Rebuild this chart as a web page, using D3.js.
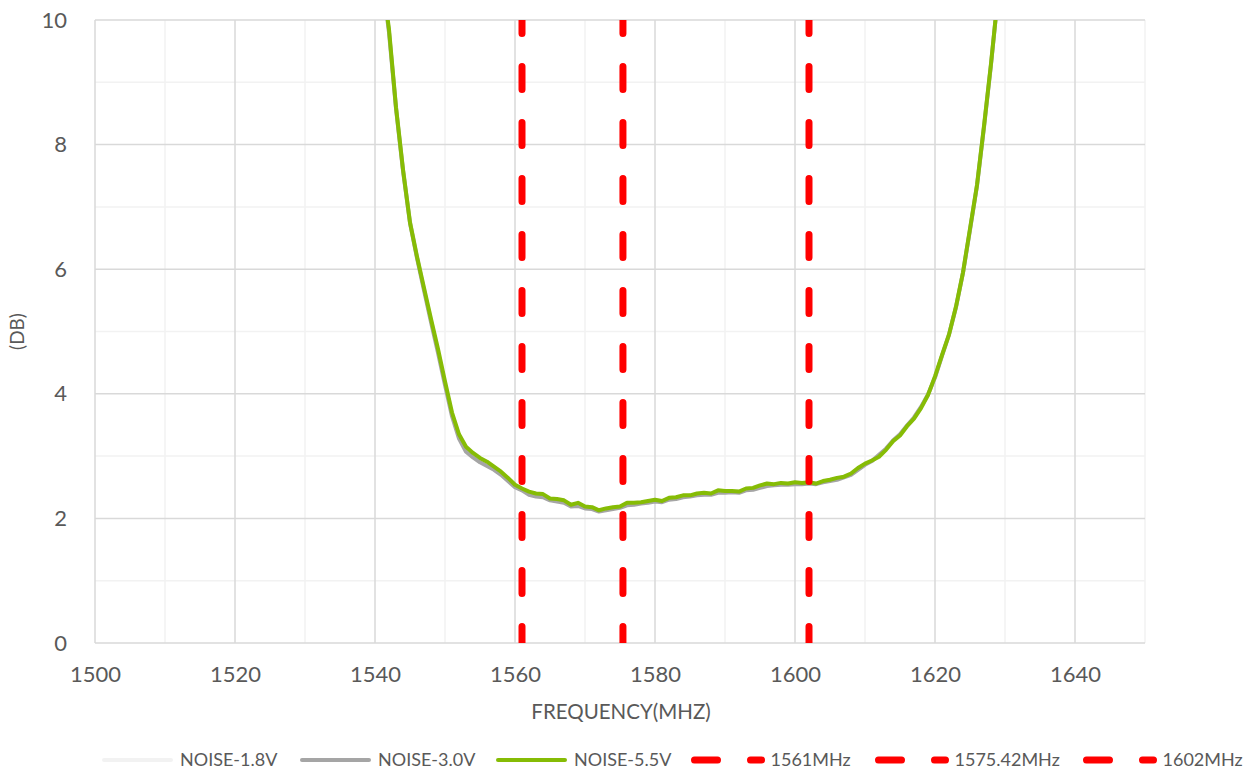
<!DOCTYPE html>
<html>
<head>
<meta charset="utf-8">
<script src="https://cdn.jsdelivr.net/npm/d3@7"></script>
<style>
  html, body { margin: 0; padding: 0; background: #fff; }
  svg { display: block; }
  text { font-family: Lato, "Open Sans", sans-serif; fill: #595959; }
</style>
</head>
<body>
<svg id="chart" width="1253" height="771"></svg>
<script>
// Frequency sweep (MHz), 1 MHz steps
const freqs = d3.range(1540, 1631);

// Noise figure (dB) per supply voltage
const noise18 = [12.0,10.7,9.82,8.62,7.62,6.78,6.22,5.70,5.18,4.70,4.18,3.68,3.33,3.12,3.02,2.95,2.88,2.81,2.73,2.63,2.52,2.47,2.41,2.38,2.36,2.31,2.29,2.26,2.21,2.22,2.18,2.16,2.13,2.15,2.17,2.18,2.23,2.24,2.25,2.27,2.28,2.28,2.32,2.33,2.35,2.36,2.39,2.40,2.40,2.43,2.43,2.43,2.43,2.47,2.48,2.51,2.54,2.54,2.55,2.55,2.57,2.56,2.57,2.56,2.59,2.61,2.64,2.67,2.71,2.79,2.87,2.94,3.01,3.11,3.23,3.33,3.47,3.60,3.77,3.98,4.27,4.62,4.96,5.40,5.95,6.64,7.36,8.31,9.30,10.4,11.6];
const noise30 = [12.0,10.7,9.80,8.58,7.58,6.74,6.18,5.66,5.15,4.66,4.14,3.64,3.28,3.07,2.98,2.90,2.84,2.78,2.70,2.60,2.50,2.45,2.38,2.35,2.34,2.29,2.27,2.25,2.19,2.20,2.16,2.15,2.11,2.13,2.15,2.17,2.21,2.22,2.24,2.25,2.27,2.26,2.30,2.31,2.34,2.35,2.37,2.38,2.38,2.41,2.41,2.42,2.41,2.45,2.46,2.49,2.52,2.53,2.54,2.54,2.55,2.55,2.56,2.55,2.58,2.60,2.62,2.66,2.70,2.78,2.86,2.92,3.02,3.12,3.25,3.35,3.49,3.62,3.79,3.99,4.26,4.61,4.95,5.39,5.94,6.63,7.34,8.28,9.28,10.4,11.6];
const noise55 = [12.0,10.7,9.85,8.60,7.60,6.75,6.20,5.70,5.20,4.72,4.20,3.70,3.35,3.15,3.05,2.97,2.91,2.83,2.75,2.65,2.54,2.48,2.43,2.40,2.39,2.32,2.31,2.29,2.22,2.25,2.19,2.18,2.13,2.16,2.18,2.19,2.25,2.25,2.26,2.28,2.30,2.28,2.33,2.34,2.37,2.37,2.40,2.41,2.40,2.45,2.44,2.44,2.43,2.48,2.49,2.53,2.56,2.55,2.57,2.56,2.58,2.57,2.58,2.56,2.60,2.62,2.65,2.67,2.72,2.81,2.88,2.93,2.99,3.10,3.24,3.33,3.48,3.60,3.77,3.98,4.28,4.62,4.95,5.40,5.95,6.65,7.35,8.30,9.30,10.4,11.6];

// Marker frequencies (MHz)
const markers = [1561, 1575.42, 1602];
const markerNames = ["1561MHz", "1575.42MHz", "1602MHz"];

const xTicks = [1500, 1520, 1540, 1560, 1580, 1600, 1620, 1640];
const yTicks = [0, 2, 4, 6, 8, 10];

const seriesNames = ["NOISE-1.8V", "NOISE-3.0V", "NOISE-5.5V"];
const seriesColors = ["#f2f2f2", "#a5a5a5", "#86bc05"];
const seriesValues = [noise18, noise30, noise55];
const markerColor = "#ff0000";

const svg = d3.select("#chart");
const x = d3.scaleLinear().domain([1500, 1650]).range([95, 1145]);
const y = d3.scaleLinear().domain([0, 10]).range([643, 20]);

// clip region for the plot area
svg.append("defs").append("clipPath").attr("id", "plotClip")
  .append("rect")
  .attr("x", x(1500)).attr("y", y(10))
  .attr("width", x(1650) - x(1500)).attr("height", y(0) - y(10));

// minor gridlines
const grid = svg.append("g");
grid.selectAll("line.vminor").data(d3.range(1510, 1651, 20)).join("line")
  .attr("x1", d => x(d)).attr("x2", d => x(d))
  .attr("y1", y(0)).attr("y2", y(10))
  .attr("stroke", "#f2f2f2").attr("stroke-width", 1.5);
grid.selectAll("line.hminor").data(d3.range(1, 10, 2)).join("line")
  .attr("x1", x(1500)).attr("x2", x(1650))
  .attr("y1", d => y(d)).attr("y2", d => y(d))
  .attr("stroke", "#f2f2f2").attr("stroke-width", 1.5);
// major gridlines
grid.selectAll("line.vmajor").data(xTicks).join("line")
  .attr("x1", d => x(d)).attr("x2", d => x(d))
  .attr("y1", y(0)).attr("y2", y(10))
  .attr("stroke", "#d9d9d9").attr("stroke-width", 1.5);
grid.selectAll("line.hmajor").data(yTicks).join("line")
  .attr("x1", x(1500)).attr("x2", x(1650))
  .attr("y1", d => y(d)).attr("y2", d => y(d))
  .attr("stroke", "#d9d9d9").attr("stroke-width", 1.5);

// axes (labels only)
const xAxis = svg.append("g").attr("transform", `translate(0,${y(0)})`)
  .call(d3.axisBottom(x).tickValues(xTicks).tickSize(0).tickPadding(23).tickFormat(d3.format("d")));
xAxis.select(".domain").remove();
xAxis.selectAll("text").style("font-size", "22px").attr("fill", "#595959")
  .style("font-family", "Lato, sans-serif");

const yAxis = svg.append("g").attr("transform", `translate(67,0)`)
  .call(d3.axisLeft(y).tickValues(yTicks).tickSize(0).tickPadding(0).tickFormat(d3.format("d")));
yAxis.select(".domain").remove();
yAxis.selectAll("text").style("font-size", "22px").attr("fill", "#595959")
  .style("font-family", "Lato, sans-serif");

// axis titles
svg.append("text").attr("x", (x(1500) + x(1650)) / 2 + 1).attr("y", 719)
  .attr("text-anchor", "middle").style("font-size", "20.5px").text("FREQUENCY(MHZ)");
svg.append("text").attr("transform", `translate(24,${(y(0) + y(10)) / 2}) rotate(-90)`)
  .attr("text-anchor", "middle").style("font-size", "19px").text("(DB)");

const plot = svg.append("g").attr("clip-path", "url(#plotClip)");

// noise curves
const line = d3.line().x((d, i) => x(freqs[i])).y(d => y(d));
seriesValues.forEach((vals, k) => {
  plot.append("path").datum(vals)
    .attr("d", line)
    .attr("fill", "none")
    .attr("stroke", seriesColors[k])
    .attr("stroke-width", 4)
    .attr("stroke-linejoin", "round")
    .attr("stroke-linecap", "round");
});

// marker lines
plot.selectAll("line.marker").data(markers).join("line")
  .attr("x1", d => x(d)).attr("x2", d => x(d))
  .attr("y1", y(10)).attr("y2", y(0))
  .attr("stroke", markerColor).attr("stroke-width", 7)
  .attr("stroke-linecap", "round")
  .attr("stroke-dasharray", "23 33")
  .attr("stroke-dashoffset", 9.5);

// legend
const legend = svg.append("g");
const solidX = [104, 302, 498];
seriesNames.forEach((name, k) => {
  legend.append("line")
    .attr("x1", solidX[k]).attr("x2", solidX[k] + 67)
    .attr("y1", 760).attr("y2", 760)
    .attr("stroke", seriesColors[k]).attr("stroke-width", 4).attr("stroke-linecap", "round");
  legend.append("text").attr("x", solidX[k] + 76).attr("y", 766)
    .style("font-size", "18px").text(name);
});
const dashX = [694.5, 878.5, 1086.5];
markerNames.forEach((name, k) => {
  legend.append("line")
    .attr("x1", dashX[k]).attr("x2", dashX[k] + 67)
    .attr("y1", 760).attr("y2", 760)
    .attr("stroke", markerColor).attr("stroke-width", 7).attr("stroke-linecap", "round")
    .attr("stroke-dasharray", "23 33");
  legend.append("text").attr("x", dashX[k] + 76).attr("y", 766)
    .style("font-size", "18px").text(name);
});
</script>
</body>
</html>
